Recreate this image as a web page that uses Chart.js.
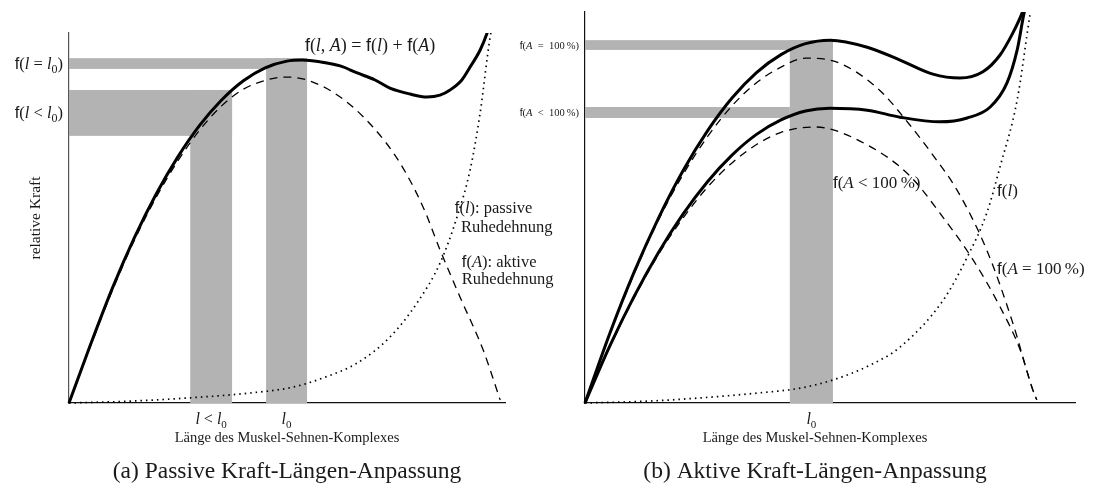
<!DOCTYPE html>
<html>
<head>
<meta charset="utf-8">
<title>Kraft-Längen-Anpassung</title>
<script src="https://cdn.jsdelivr.net/npm/chart.js@4.4.1/dist/chart.umd.min.js"></script>
<style>
  html, body { margin: 0; padding: 0; background: #fff; }
  #figure { position: relative; width: 1093px; height: 489px; overflow: hidden; }
  #panelA { position: absolute; left: 0; top: 0; width: 557px; height: 489px; }
  #panelB { position: absolute; left: 500px; top: 0; width: 593px; height: 489px; }
</style>
</head>
<body>
<div id="figure">
  <div id="panelA"><canvas id="chartA"></canvas></div>
  <div id="panelB"><canvas id="chartB"></canvas></div>
</div>
<script>
// ---------- Panel (a): passive force-length adaptation ----------
// muscle-tendon length (0..100) and relative force (0..100)
const totalA_len   = [0, 5, 10, 15, 20, 25, 30, 35, 40, 45, 50, 53.5, 57.6, 62.2, 66.1, 70.2, 73.6, 78.2, 82.1, 85.1, 87.4, 90.1, 92.0, 94.3, 95.9, 97.2];
const totalA_force = [0, 16.0, 31.2, 44.7, 56.5, 66.6, 75.1, 81.9, 87.1, 90.6, 92.4, 92.7, 92.2, 91.1, 89.2, 87.3, 85.1, 83.5, 82.7, 83.2, 84.6, 87.3, 90.8, 95.4, 100, 104.9];

const activeA_len   = [0, 5, 10, 15, 20, 25, 30, 35, 40, 45, 49.5, 54.6, 62.2, 69.7, 75.9, 81.2, 85.1, 89.7, 95.0, 98.9];
const activeA_force = [0, 15.6, 30.6, 44.0, 55.6, 65.5, 73.8, 80.3, 84.8, 87.2, 88.1, 87.3, 82.7, 74.6, 64.9, 53.0, 41.4, 28.6, 14.3, 0.8];

const passiveA_len   = [0, 14, 27.8, 41.5, 51.4, 58.3, 66.1, 73.6, 79.8, 85.1, 89.0, 92.0, 94.3, 96.6, 97.6];
const passiveA_force = [0, 0.5, 1.4, 2.7, 4.3, 6.8, 10.8, 17.8, 27.0, 37.8, 50.3, 63.0, 78.4, 98.9, 104];

// shaded ranges: [l<l0 column, l0 column, f(l=l0) row, f(l<l0) row]
const bandsA_len0   = [27.8, 45.2, 0, 0];
const bandsA_len1   = [37.4, 54.6, 54.6, 37.4];
const bandsA_force0 = [0, 0, 90.3, 72.2];
const bandsA_force1 = [84.6, 93.2, 93.2, 84.6];

// ---------- Panel (b): active force-length adaptation ----------
const totalB100_len   = [0, 5, 10, 15, 20, 25, 30, 35, 40, 45, 50, 57.6, 64.3, 71.0, 76.5, 81.2, 84.7, 87.3, 89.2, 90.0];
const totalB100_force = [0, 17.6, 33.4, 47.3, 59.4, 69.6, 78.0, 84.5, 89.1, 91.9, 92.8, 91.0, 87.7, 84.1, 83.1, 84.7, 89.0, 94.6, 99.7, 102.6];

const totalBsub_len   = [0, 5, 10, 15, 20, 25, 30, 35, 40, 45, 50, 57.6, 64.3, 72.4, 78.0, 82.7, 86.1, 88.2, 89.6, 90.2];
const totalBsub_force = [0, 14.4, 27.2, 38.5, 48.3, 56.6, 63.4, 68.7, 72.4, 74.7, 75.4, 74.9, 73.1, 71.9, 72.9, 75.7, 81.8, 90.3, 99.7, 102.6];

const activeB100_len   = [0, 5, 10, 15, 20, 25, 30, 35, 40, 45, 50.6, 59.6, 66.3, 71.0, 75.9, 82.0, 87.3, 91.4, 92.2];
const activeB100_force = [0, 17.4, 33.0, 46.8, 58.4, 68.1, 76.0, 81.9, 85.9, 88.2, 87.5, 80.6, 71.1, 63.4, 54.5, 39.1, 20.5, 3.3, 0.8];

const activeBsub_len   = [0, 5, 10, 15, 20, 25, 30, 35, 40, 46.9, 57.6, 66.3, 72.4, 79.2, 84.7, 88.8, 91.4, 92.2];
const activeBsub_force = [0, 14.2, 26.8, 38.0, 47.3, 55.2, 61.4, 66.1, 69.2, 70.6, 66.0, 58.1, 48.6, 36.6, 24.6, 13.6, 3.3, 0.8];

const passiveB_len   = [0, 13.3, 23.5, 35.7, 43.9, 50.6, 58.2, 64.3, 73.1, 78.0, 82.0, 84.7, 88.2, 90.8, 91.3];
const passiveB_force = [0, 0.5, 1.3, 2.6, 3.8, 5.9, 9.7, 14.3, 26.3, 37.3, 48.6, 60.4, 77.5, 99.2, 103];

// shaded ranges: [l0 column, f(A=100%) row, f(A<100%) row]
const bandsB_len0   = [41.8, 0, 0];
const bandsB_len1   = [50.6, 50.6, 41.8];
const bandsB_force0 = [0, 90.3, 72.9];
const bandsB_force1 = [92.8, 92.8, 75.7];

// ---------- text helpers ----------
const INK = '#1a1a1a';
function fontFor(kind, size) {
  if (kind === 'it') return 'italic ' + size + 'px "Liberation Serif", serif';
  if (kind === 'sf') return size + 'px "Liberation Sans", sans-serif';
  if (kind === 'sub') return Math.round(size * 0.7) + 'px "Liberation Serif", serif';
  return size + 'px "Liberation Serif", serif';
}
// draws a run of mixed-style pieces, vertically centred on y
function drawRich(ctx, parts, x, y, size, align) {
  const widths = parts.map(([t, k]) => { ctx.font = fontFor(k, size); return ctx.measureText(t).width; });
  const total = widths.reduce((a, b) => a + b, 0);
  let cx = align === 'right' ? x - total : align === 'center' ? x - total / 2 : x;
  const base = y + size * 0.33;
  ctx.fillStyle = INK;
  ctx.textAlign = 'left';
  ctx.textBaseline = 'alphabetic';
  parts.forEach(([t, k], i) => {
    ctx.font = fontFor(k, size);
    ctx.fillText(t, cx, base + (k === 'sub' ? size * 0.22 : 0));
    cx += widths[i];
  });
}
const L0 = [['l', 'it'], ['0', 'sub']];
const SP = '\u2002';

function zip(xs, ys) { return xs.map((x, i) => ({ x: x, y: ys[i] })); }

const CLIP = { left: 4, right: 4, top: 0, bottom: 4 };
function solid(xs, ys) {
  return { data: zip(xs, ys), borderColor: '#000', borderWidth: 3, fill: false, clip: CLIP };
}
function dashed(xs, ys) {
  return { data: zip(xs, ys), borderColor: '#000', borderWidth: 1.3, borderDash: [8, 6], fill: false, clip: CLIP };
}
function dotted(xs, ys) {
  return { data: zip(xs, ys), borderColor: '#000', borderWidth: 1.7, borderDash: [1.5, 4], fill: false, clip: CLIP };
}

// grey range bands, drawn behind the curves
function bandPlugin(x0s, x1s, y0s, y1s) {
  return {
    id: 'bands',
    beforeDatasetsDraw(chart) {
      const { ctx, scales: { x, y } } = chart;
      ctx.save();
      ctx.fillStyle = '#b3b3b3';
      x0s.forEach((v, i) => {
        const px0 = x.getPixelForValue(v), px1 = x.getPixelForValue(x1s[i]);
        const py0 = y.getPixelForValue(y0s[i]), py1 = y.getPixelForValue(y1s[i]);
        ctx.fillRect(px0, py1, px1 - px0, py0 - py1);
      });
      ctx.restore();
    }
  };
}

function baseOptions(padding, yBorder) {
  return {
    responsive: true, maintainAspectRatio: false, animation: false, devicePixelRatio: 1, events: [],
    layout: { padding: padding },
    plugins: { legend: { display: false }, tooltip: { enabled: false }, title: { display: false } },
    elements: { point: { radius: 0 }, line: { cubicInterpolationMode: 'monotone', borderCapStyle: 'butt' } },
    scales: {
      x: { type: 'linear', min: 0, max: 100, grid: { display: false, drawTicks: false },
           ticks: { display: false }, border: { display: true, color: '#111', width: 1.2 } },
      y: { type: 'linear', min: 0, max: 100, grid: { display: false, drawTicks: false },
           ticks: { display: false }, border: { display: true, color: yBorder, width: 1.2 } }
    }
  };
}

// ---------- chart (a) ----------
const textA = {
  id: 'textA',
  afterDraw(chart) {
    const { ctx, chartArea: a, scales: { x, y } } = chart;
    ctx.save();
    const mid = (a.left + a.right) / 2;
    // row labels on the force axis
    drawRich(ctx, [['f', 'sf'], ['(', 'rm'], ['l', 'it'], [' = ', 'rm'], ...L0, [')', 'rm']],
             a.left - 6, y.getPixelForValue((bandsA_force0[2] + bandsA_force1[2]) / 2), 16.5, 'right');
    drawRich(ctx, [['f', 'sf'], ['(', 'rm'], ['l', 'it'], [' < ', 'rm'], ...L0, [')', 'rm']],
             a.left - 6, y.getPixelForValue((bandsA_force0[3] + bandsA_force1[3]) / 2), 16.5, 'right');
    // length labels under the axis
    drawRich(ctx, [['l', 'it'], [' < ', 'rm'], ...L0],
             x.getPixelForValue((bandsA_len0[0] + bandsA_len1[0]) / 2), a.bottom + 16, 16, 'center');
    drawRich(ctx, L0, x.getPixelForValue((bandsA_len0[1] + bandsA_len1[1]) / 2), a.bottom + 16, 16, 'center');
    // curve annotations
    drawRich(ctx, [['f', 'sf'], ['(', 'rm'], ['l', 'it'], [', ', 'rm'], ['A', 'it'], [')', 'rm'], [' = ', 'rm'],
                   ['f', 'sf'], ['(', 'rm'], ['l', 'it'], [') + ', 'rm'], ['f', 'sf'], ['(', 'rm'], ['A', 'it'], [')', 'rm']],
             x.getPixelForValue(54.1), y.getPixelForValue(96.8), 18, 'left');
    drawRich(ctx, [['f', 'sf'], ['(', 'rm'], ['l', 'it'], ['): passive', 'rm']],
             x.getPixelForValue(88.5), y.getPixelForValue(52.7), 16.5, 'left');
    drawRich(ctx, [['Ruhedehnung', 'rm']], x.getPixelForValue(89.9), y.getPixelForValue(47.8), 16.5, 'left');
    drawRich(ctx, [['f', 'sf'], ['(', 'rm'], ['A', 'it'], ['): aktive', 'rm']],
             x.getPixelForValue(90.1), y.getPixelForValue(38.1), 16.5, 'left');
    drawRich(ctx, [['Ruhedehnung', 'rm']], x.getPixelForValue(90.1), y.getPixelForValue(33.5), 16.5, 'left');
    // axis titles and caption
    drawRich(ctx, [['Länge des Muskel-Sehnen-Komplexes', 'rm']], mid, a.bottom + 34, 14.5, 'center');
    drawRich(ctx, [['(a) Passive Kraft-Längen-Anpassung', 'rm']], mid, a.bottom + 67, 23.5, 'center');
    ctx.translate(a.left - 34, (a.top + a.bottom) / 2);
    ctx.rotate(-Math.PI / 2);
    drawRich(ctx, [['relative Kraft', 'rm']], 0, 0, 15.5, 'center');
    ctx.restore();
  }
};

new Chart(document.getElementById('chartA'), {
  type: 'line',
  data: {
    datasets: [
      solid(totalA_len, totalA_force),
      dashed(activeA_len, activeA_force),
      dotted(passiveA_len, passiveA_force)
    ]
  },
  options: baseOptions({ left: 69, top: 33, right: 52, bottom: 86 }, '#555'),
  plugins: [bandPlugin(bandsA_len0, bandsA_len1, bandsA_force0, bandsA_force1), textA]
});

// ---------- chart (b) ----------
const textB = {
  id: 'textB',
  afterDraw(chart) {
    const { ctx, chartArea: a, scales: { x, y } } = chart;
    ctx.save();
    const mid = (a.left + a.right) / 2 - 15;
    drawRich(ctx, [['f', 'sf'], ['(', 'rm'], ['A', 'it'], [SP + '=' + SP + '100\u2009%)', 'rm']],
             a.left - 6, y.getPixelForValue((bandsB_force0[1] + bandsB_force1[1]) / 2), 10.5, 'right');
    drawRich(ctx, [['f', 'sf'], ['(', 'rm'], ['A', 'it'], [SP + '<' + SP + '100\u2009%)', 'rm']],
             a.left - 6, y.getPixelForValue((bandsB_force0[2] + bandsB_force1[2]) / 2), 10.5, 'right');
    drawRich(ctx, L0, x.getPixelForValue((bandsB_len0[0] + bandsB_len1[0]) / 2), a.bottom + 16, 16, 'center');
    drawRich(ctx, [['f', 'sf'], ['(', 'rm'], ['A', 'it'], [' < 100\u2009%)', 'rm']],
             x.getPixelForValue(50.6), y.getPixelForValue(56.3), 17, 'left');
    drawRich(ctx, [['f', 'sf'], ['(', 'rm'], ['l', 'it'], [')', 'rm']],
             x.getPixelForValue(84.1), y.getPixelForValue(54.5), 17, 'left');
    drawRich(ctx, [['f', 'sf'], ['(', 'rm'], ['A', 'it'], [' = 100\u2009%)', 'rm']],
             x.getPixelForValue(84.1), y.getPixelForValue(34.5), 17, 'left');
    drawRich(ctx, [['Länge des Muskel-Sehnen-Komplexes', 'rm']], mid, a.bottom + 34, 14.5, 'center');
    drawRich(ctx, [['(b) Aktive Kraft-Längen-Anpassung', 'rm']], mid, a.bottom + 67, 23.5, 'center');
    ctx.restore();
  }
};

new Chart(document.getElementById('chartB'), {
  type: 'line',
  data: {
    datasets: [
      solid(totalB100_len, totalB100_force),
      solid(totalBsub_len, totalBsub_force),
      dashed(activeB100_len, activeB100_force),
      dashed(activeBsub_len, activeBsub_force),
      dotted(passiveB_len, passiveB_force)
    ]
  },
  options: baseOptions({ left: 85, top: 12, right: 18, bottom: 86 }, '#111'),
  plugins: [bandPlugin(bandsB_len0, bandsB_len1, bandsB_force0, bandsB_force1), textB]
});
</script>
</body>
</html>
